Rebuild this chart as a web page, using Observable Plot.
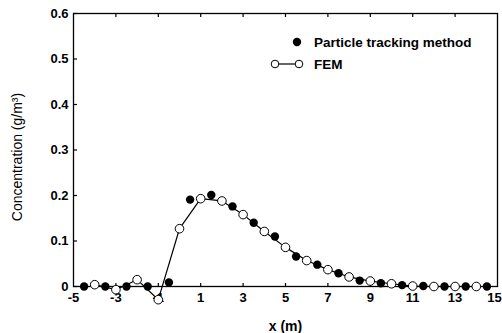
<!DOCTYPE html>
<html>
<head>
<meta charset="utf-8">
<script src="https://cdn.jsdelivr.net/npm/d3@7"></script>
<script src="https://cdn.jsdelivr.net/npm/@observablehq/plot@0.6"></script>
<style>
  html, body { margin: 0; padding: 0; background: #fff; }
  svg { font-family: "Liberation Sans", Arial, sans-serif; }
</style>
</head>
<body>
<div id="chart"></div>
<script>
// Particle tracking method (filled dots)
const ptX = [-4.5, -3.5, -2.5, -1.5, -0.5, 0.5, 1.5, 2.5, 3.5, 4.5, 5.5, 6.5, 7.5, 8.5, 9.5, 10.5, 11.5, 12.5, 13.5, 14.5];
const ptY = [0, 0, 0, 0, 0.009, 0.191, 0.201, 0.176, 0.140, 0.110, 0.066, 0.048, 0.029, 0.013, 0.007, 0.003, 0.001, 0, 0, 0];
// FEM (open circles with line)
const femX = [-4, -3, -2, -1, 0, 1, 2, 3, 4, 5, 6, 7, 8, 9, 10, 11, 12, 13, 14];
const femY = [0.004, -0.007, 0.015, -0.029, 0.127, 0.193, 0.188, 0.158, 0.121, 0.086, 0.057, 0.037, 0.021, 0.012, 0.006, 0.001, 0, 0, 0];
// Ticks
const xLabelTicks = [-5, -3, -1, 1, 3, 5, 7, 9, 11, 13];
const xLastTick = [15];
const xMarkTicks = [-3, -1, 1, 3, 5, 7, 9, 11, 13];
const yTicks = [0, 0.1, 0.2, 0.3, 0.4, 0.5, 0.6];
const seriesNames = ["Particle tracking method", "FEM"];
const xLabel = "x (m)";
const yLabel = "Concentration (g/m³)";

const pt = ptX.map((x, i) => ({x, y: ptY[i]}));
const fem = femX.map((x, i) => ({x, y: femY[i]}));

const chart = Plot.plot({
  width: 502,
  height: 333,
  marginLeft: 73,
  marginRight: 5,
  marginTop: 13,
  marginBottom: 47,
  style: {fontFamily: "Liberation Sans, Arial, sans-serif", color: "black", background: "white"},
  x: {domain: [-5, 15]},
  y: {domain: [0, 0.6]},
  marks: [
    Plot.frame({stroke: "black", strokeWidth: 1.3}),
    Plot.axisY({ticks: yTicks, tickSize: 0, tickPadding: 5, tickFormat: d => d === 0 ? "0" : d.toFixed(1), fontSize: 13, fontWeight: "bold", label: null}),
    Plot.axisY({ticks: yTicks, tickSize: 4, dx: 4, text: null, label: null, strokeWidth: 1.2}),
    Plot.axisX({ticks: xLabelTicks, tickSize: 0, tickPadding: 6, tickFormat: d => String(d), fontSize: 13, fontWeight: "bold", label: null}),
    Plot.axisX({ticks: xLastTick, tickSize: 0, tickPadding: 6, tickFormat: d => String(d), fontSize: 13, fontWeight: "bold", label: null, dx: -3}),
    Plot.axisX({ticks: xMarkTicks, tickSize: 3, dy: -3, text: null, label: null, strokeWidth: 1.2}),
    Plot.axisX({anchor: "top", ticks: xMarkTicks, tickSize: 3, dy: 3, text: null, label: null, strokeWidth: 1.2}),
    Plot.text([xLabel], {frameAnchor: "bottom", dy: 40, text: d => d, fontSize: 14, fontWeight: "bold", lineAnchor: "middle", textAnchor: "middle"}),
    Plot.text([yLabel], {frameAnchor: "left", dx: -56, dy: 7, rotate: -90, text: d => d, fontSize: 14, lineAnchor: "middle", textAnchor: "middle"}),
    Plot.line(fem, {x: "x", y: "y", stroke: "black", strokeWidth: 1.2}),
    Plot.dot(fem, {x: "x", y: "y", r: 4.3, stroke: "black", strokeWidth: 1, fill: "white"}),
    Plot.dot(pt, {x: "x", y: "y", r: 4.2, fill: "black", stroke: "none"})
  ]
});

// Legend drawn inside the plot area
const svg = d3.select(chart);
const lg = svg.append("g")
  .attr("font-family", "Liberation Sans, Arial, sans-serif")
  .attr("font-size", 13.5)
  .attr("font-weight", "bold")
  .attr("text-anchor", "start");
lg.append("circle").attr("cx", 297).attr("cy", 42).attr("r", 4.2).attr("fill", "black");
lg.append("text").attr("x", 314).attr("y", 42).attr("dy", "0.35em").text(seriesNames[0]);
lg.append("line").attr("x1", 275).attr("x2", 299).attr("y1", 64).attr("y2", 64).attr("stroke", "black").attr("stroke-width", 1.2);
lg.append("circle").attr("cx", 275).attr("cy", 64).attr("r", 3.8).attr("fill", "white").attr("stroke", "black");
lg.append("circle").attr("cx", 299).attr("cy", 64).attr("r", 3.8).attr("fill", "white").attr("stroke", "black");
lg.append("text").attr("x", 314).attr("y", 64).attr("dy", "0.35em").text(seriesNames[1]);

document.getElementById("chart").appendChild(chart);
</script>
</body>
</html>
